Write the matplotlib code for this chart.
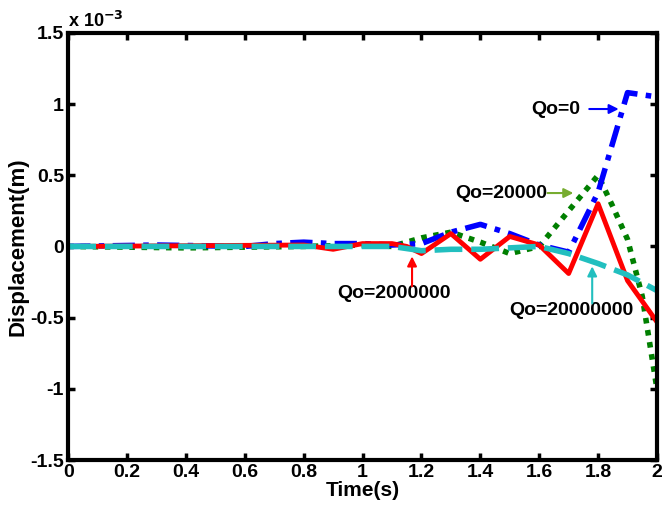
import numpy as np
import matplotlib.pyplot as plt

plt.rcParams['font.family'] = ['Liberation Sans', 'DejaVu Sans']
plt.rcParams['font.weight'] = 'bold'

# displacement values in units of 1e-3 m
t_blue = [0, 0.3, 0.6, 0.7, 0.8, 0.9, 1.0, 1.1, 1.2, 1.3, 1.4, 1.5, 1.6, 1.7, 1.8, 1.9, 2.0]
qo_0 = [0, 0.01, 0.0, 0.02, 0.03, 0.02, 0.02, 0.01, 0.02, 0.1, 0.155, 0.09, 0.01, -0.04, 0.38, 1.08, 1.05]

t_green = [0, 0.4, 0.8, 1.0, 1.1, 1.2, 1.3, 1.4, 1.5, 1.6, 1.7, 1.8, 1.85, 1.9, 1.95, 2.0]
qo_20000 = [0, -0.01, 0.0, 0.01, 0.0, 0.06, 0.1, 0.03, -0.05, 0.0, 0.25, 0.5, 0.28, 0.05, -0.35, -1.0]

t_red = [0, 0.8, 0.9, 1.0, 1.1, 1.15, 1.2, 1.3, 1.4, 1.5, 1.6, 1.7, 1.8, 1.9, 2.0]
qo_2000000 = [0, 0.01, -0.02, 0.02, 0.02, 0.0, -0.05, 0.09, -0.09, 0.07, 0.01, -0.19, 0.3, -0.24, -0.53]

t_cyan = [0, 1.1, 1.2, 1.3, 1.4, 1.5, 1.6, 1.7, 1.8, 1.9, 2.0]
qo_20000000 = [0, 0.0, -0.03, -0.02, -0.02, -0.01, 0.0, -0.05, -0.12, -0.2, -0.31]

# label text, text position, arrow start, arrow tip, arrow colour
labels = ['Qo=0', 'Qo=20000', 'Qo=2000000', 'Qo=20000000']
text_pos = [(1.657, 0.965), (1.47, 0.375), (1.105, -0.33), (1.71, -0.45)]
arrow_from = [(1.77, 0.965), (1.628, 0.375), (1.168, -0.28), (1.78, -0.40)]
arrow_to = [(1.87, 0.965), (1.716, 0.375), (1.168, -0.07), (1.78, -0.14)]
arrow_colors = ['#0000ff', '#77ac30', '#ff0000', '#22bfbf']

fig = plt.figure(figsize=(6.69, 5.05), dpi=100)
ax = fig.add_axes([0.102, 0.089, 0.88, 0.846])

ax.plot(t_green, qo_20000, color='#007f00', lw=4, linestyle=(0, (1, 1.2)))
ax.plot(t_blue, qo_0, color='#0000ff', lw=4, linestyle=(0, (4, 1.5, 1, 1.5)))
ax.plot(t_red, qo_2000000, color='#ff0000', lw=3.5, linestyle='-')
ax.plot(t_cyan, qo_20000000, color='#22bfbf', lw=4, linestyle=(0, (5, 1.6)))

ax.set_xlim(0, 2)
ax.set_ylim(-1.5, 1.5)
ax.set_xticks(np.arange(0, 2.01, 0.2))
ax.set_xticklabels(['0', '0.2', '0.4', '0.6', '0.8', '1', '1.2', '1.4', '1.6', '1.8', '2'])
ax.set_yticks(np.arange(-1.5, 1.51, 0.5))
ax.set_yticklabels(['-1.5', '-1', '-0.5', '0', '0.5', '1', '1.5'])
ax.tick_params(direction='in', top=True, right=True, length=5, width=2.5,
               labelsize=14, pad=3)
for s in ax.spines.values():
    s.set_linewidth(3)

ax.set_xlabel('Time(s)', fontsize=15, fontweight='bold', labelpad=0)
ax.set_ylabel('Displacement(m)', fontsize=16, fontweight='bold', labelpad=1)
ax.text(0.0, 1.005, r'x 10$^{-3}$', transform=ax.transAxes, fontsize=13,
        ha='left', va='bottom')

for lab, tp, a0, a1, c in zip(labels, text_pos, arrow_from, arrow_to, arrow_colors):
    ax.text(tp[0], tp[1], lab, fontsize=14, ha='center', va='center')
    ax.annotate('', xy=a1, xytext=a0,
                arrowprops=dict(arrowstyle='-|>', color=c, lw=1.5,
                                mutation_scale=14, shrinkA=0, shrinkB=0))

fig.savefig('out.png', dpi=100)
